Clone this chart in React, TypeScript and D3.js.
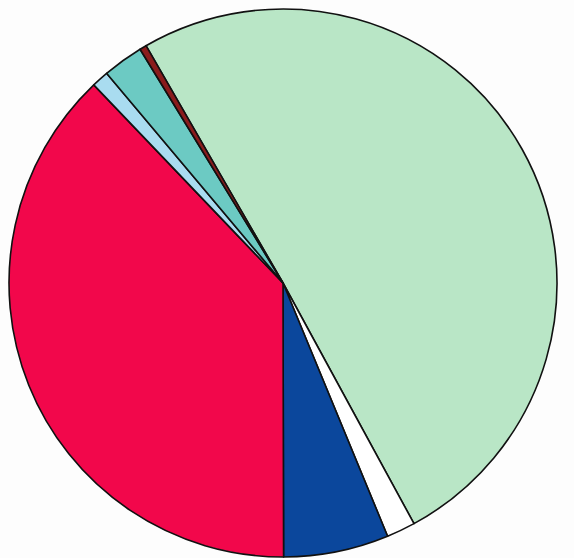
import React from "react";
import * as d3 from "d3";

const categories = ["Green", "White", "Blue", "Red", "Light blue", "Teal", "Maroon"];
const values = [50.4, 1.7, 6.2, 37.9, 1.0, 2.4, 0.4];
const colors = ["#b9e6c6", "#ffffff", "#0b479c", "#f2074b", "#a9dcf0", "#6ccac3", "#8a1c1c"];

const W = 574;
const H = 558;
const CX = 283;
const CY = 283;
const R = 274;

export default function App() {
  const data = categories.map((c, i) => ({ name: c, value: values[i], color: colors[i] }));
  const start = (-30 * Math.PI) / 180;
  const pie = d3
    .pie<{ name: string; value: number; color: string }>()
    .sort(null)
    .value((d) => d.value)
    .startAngle(start)
    .endAngle(start + 2 * Math.PI);
  const arcs = pie(data);
  const arc = d3.arc<d3.PieArcDatum<any>>().innerRadius(0).outerRadius(R);
  return (
    <svg
      width={W}
      height={H}
      style={{ position: "absolute", left: 0, top: 0, background: "#fdfdfd" }}
    >
      <g transform={`translate(${CX},${CY})`}>
        {arcs.map((a, i) => (
          <path
            key={i}
            d={arc(a) || ""}
            fill={a.data.color}
            stroke="#111"
            strokeWidth={1.6}
            strokeLinejoin="round"
          />
        ))}
      </g>
    </svg>
  );
}
